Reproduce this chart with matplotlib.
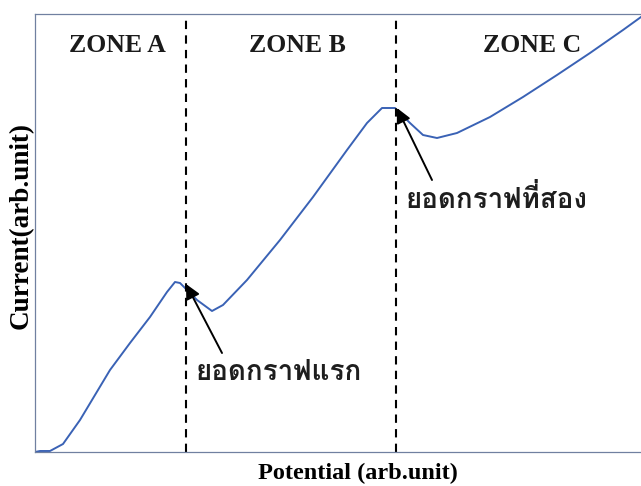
import matplotlib
matplotlib.use("Agg")
import matplotlib.pyplot as plt
from matplotlib import font_manager, ft2font

# curve (arbitrary units)
potential = [0, 5, 15, 28, 45, 75, 95, 115, 132, 140, 145, 152, 162, 177, 188,
             212, 245, 278, 312, 332, 347, 360, 375, 388, 402, 422, 455, 488,
             522, 555, 588, 606]
current = [0, 1, 1, 8, 32, 82, 109, 135, 160, 170, 169, 162, 152, 141, 147,
           172, 212, 255, 302, 329, 344, 344, 329, 317, 314, 319, 335, 355,
           377, 399, 422, 435]
zone_bounds = [151, 361]
zone_labels = ["ZONE A", "ZONE B", "ZONE C"]
zone_centers = [82, 262, 497]
peak_labels = ["ยอดกราฟแรก", "ยอดกราฟที่สอง"]
peak_tips = [(151, 168), (362, 344)]
arrow_tails = [(187, 99), (397, 272)]
label_pos = [(160, 80), (370, 254)]


def thai_font():
    for f in font_manager.fontManager.ttflist:
        try:
            cm = ft2font.FT2Font(f.fname).get_charmap()
        except Exception:
            continue
        if 0x0E22 in cm and 0x0E01 in cm:
            return f.name
    return "DejaVu Sans"


thai = thai_font()
serif = "Liberation Serif"

fig = plt.figure(figsize=(6.41, 4.86), dpi=100)
ax = fig.add_axes([35 / 641, 34 / 486, 606 / 641, 438 / 486])
ax.plot(potential, current, color="#3a62b5", lw=1.4)
ax.set_xlim(0, 606)
ax.set_ylim(0, 438)
ax.set_xticks([])
ax.set_yticks([])
for s in ["left", "bottom", "top"]:
    ax.spines[s].set_color("#7080a0")
    ax.spines[s].set_linewidth(0.9)
ax.spines["right"].set_visible(False)

for xb in zone_bounds:
    ax.axvline(xb, color="black", ls=(0, (4, 3)), lw=1.5)

for lab, xc in zip(zone_labels, zone_centers):
    ax.text(xc, 407, lab, ha="center", va="center", fontsize=18.5,
            fontweight="bold", family=serif, color="#1a1a1a")

for lab, tip, tail, pos in zip(peak_labels, peak_tips, arrow_tails, label_pos):
    ax.annotate("", xy=tip, xytext=tail,
                arrowprops=dict(arrowstyle="-|>", color="black", lw=1.4,
                                mutation_scale=22, shrinkA=0, shrinkB=0))
    ax.text(pos[0], pos[1], lab, ha="left", va="center", fontsize=20,
            fontweight="bold", family=[thai, "DejaVu Sans"], color="#1e1e1e")

ax.set_xlabel("Potential (arb.unit)", fontsize=17.5, fontweight="bold",
              family=serif)
ax.xaxis.set_label_coords(0.533, -0.048)
ax.xaxis.label.set_va("center")
ax.set_ylabel("Current(arb.unit)", fontsize=19.5, fontweight="bold",
              family=serif)
ax.yaxis.set_label_coords(-0.022, 0.516)
ax.yaxis.label.set_va("center")

fig.savefig("out.png", dpi=100)
